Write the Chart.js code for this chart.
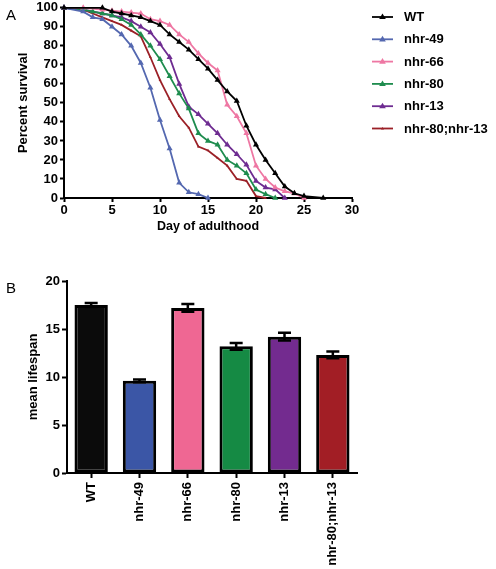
<!DOCTYPE html>
<html>
<head>
<meta charset="utf-8">
<script src="https://cdn.jsdelivr.net/npm/chart.js@4.4.1/dist/chart.umd.min.js"></script>
<style>
  html, body { margin:0; padding:0; background:#fff; }
  body { width:496px; height:569px; position:relative; overflow:hidden; font-family:"Liberation Sans", Arial, sans-serif; }
  #wrapA { position:absolute; left:0; top:-2px; width:496px; height:242px; }
  #wrapB { position:absolute; left:0; top:250px; width:496px; height:319px; }
  .panel { position:absolute; font-size:15px; color:#000; }
</style>
</head>
<body>
<div id="wrapA"><canvas id="chartA" width="496" height="242"></canvas></div>
<div id="wrapB"><canvas id="chartB" width="496" height="319"></canvas></div>
<div class="panel" style="left:6px; top:6px;">A</div>
<div class="panel" style="left:6px; top:279px;">B</div>
<script>
// ---------- Panel A data (survival curves) ----------
const seriesNames = ['WT', 'nhr-49', 'nhr-66', 'nhr-80', 'nhr-13', 'nhr-80;nhr-13'];

const wtDays   = [0, 4, 5, 6, 7, 8, 9, 10, 11, 12, 13, 14, 15, 16, 17, 18, 19, 20, 21, 22, 23, 24, 25, 27];
const wtSurv   = [100, 100, 98, 97, 96, 95, 93, 91, 86, 82, 78, 73, 68, 62, 56, 51, 38, 28, 20, 13, 6, 2.5, 1, 0];

const n49Days  = [0, 2, 3, 4, 5, 6, 7, 8, 9, 10, 11, 12, 13, 14, 15];
const n49Surv  = [100, 98, 95, 94, 90, 86, 80, 71, 58, 41, 26, 8, 3, 2, 0];

const n66Days  = [0, 2, 4, 5, 6, 7, 8, 9, 10, 11, 12, 13, 14, 15, 16, 17, 18, 19, 20, 21, 22, 23, 24, 25];
const n66Surv  = [100, 100, 99, 98.5, 98, 97.5, 97, 94, 93, 91, 86, 82, 76, 71, 67, 49, 43, 34, 17, 10, 5.5, 3.5, 2.4, 0];

const n80Days  = [0, 2, 3, 4, 5, 6, 7, 8, 9, 10, 11, 12, 13, 14, 15, 16, 17, 18, 19, 20, 21, 22];
const n80Surv  = [100, 99, 98, 97, 96, 94, 91, 86, 80, 73, 64, 55, 47, 34, 30, 28, 20, 17, 13, 4.5, 2, 0];

const n13Days  = [0, 2, 4, 5, 6, 7, 8, 9, 10, 11, 12, 13, 14, 15, 16, 17, 18, 19, 20, 21, 22, 23];
const n13Surv  = [100, 99, 97, 96, 95, 93, 90, 87, 81, 74, 60, 48, 44, 39, 34, 28, 23, 17.5, 9, 5.5, 4.5, 0];

const dblDays  = [0, 2, 3, 4, 5, 6, 7, 8, 9, 10, 11, 12, 13, 14, 15, 16, 17, 18, 19, 20, 21];
const dblSurv  = [100, 99, 97, 95, 93, 91, 88, 85, 74, 62, 52, 43, 37, 27, 25, 21, 17, 10, 9, 1, 0];

const xTicksA = [0, 5, 10, 15, 20, 25, 30];
const yTicksA = [0, 10, 20, 30, 40, 50, 60, 70, 80, 90, 100];

// ---------- Panel B data (mean lifespan) ----------
const barLabels = ['WT', 'nhr-49', 'nhr-66', 'nhr-80', 'nhr-13', 'nhr-80;nhr-13'];
const barMeans  = [17.5, 9.6, 17.2, 13.2, 14.2, 12.3];
const barErrors = [0.2, 0.15, 0.4, 0.35, 0.4, 0.35];
const yTicksB   = [0, 5, 10, 15, 20];

// ---------- styles ----------
const lineColors = ['#000000', '#5468b0', '#ee77a3', '#1e8c4e', '#6e2c91', '#9b2027'];
const barColors  = ['#0b0b0b', '#3b56a6', '#ef6793', '#158a44', '#732b8f', '#a21e25'];
const FONT = '"Liberation Sans", Arial, sans-serif';
Chart.defaults.font.family = FONT;
Chart.defaults.color = '#000';

function pts(d, s) { return d.map((x, i) => ({ x: x, y: s[i] })); }
const allDays = [wtDays, n49Days, n66Days, n80Days, n13Days, dblDays];
const allSurv = [wtSurv, n49Surv, n66Surv, n80Surv, n13Surv, dblSurv];

const datasetsA = seriesNames.map((name, i) => ({
  label: name,
  data: pts(allDays[i], allSurv[i]),
  borderColor: lineColors[i],
  backgroundColor: lineColors[i],
  borderWidth: 1.8,
  pointStyle: 'triangle',
  pointRadius: i === 5 ? 1.6 : 3.5,
  pointBorderWidth: 0,
  tension: 0,
  clip: false
}));

const legendPlugin = {
  id: 'customLegend',
  afterDraw(chart) {
    const ctx = chart.ctx;
    ctx.save();
    const x0 = 372, x1 = 393, tx = 404;
    chart.data.datasets.forEach((ds, i) => {
      const y = 19 + i * 22.3;
      ctx.strokeStyle = ds.borderColor;
      ctx.lineWidth = 1.8;
      ctx.beginPath(); ctx.moveTo(x0, y); ctx.lineTo(x1, y); ctx.stroke();
      ctx.fillStyle = ds.borderColor;
      const r = i === 5 ? 1.6 : 3.5;
      ctx.beginPath();
      ctx.moveTo((x0 + x1) / 2, y - r);
      ctx.lineTo((x0 + x1) / 2 + r * 0.95, y + r * 0.6);
      ctx.lineTo((x0 + x1) / 2 - r * 0.95, y + r * 0.6);
      ctx.closePath(); ctx.fill();
      ctx.fillStyle = '#000';
      ctx.font = 'bold 13px ' + FONT;
      ctx.textBaseline = 'middle';
      ctx.textAlign = 'left';
      ctx.fillText(ds.label, tx, y + 0.5);
    });
    ctx.restore();
  }
};

new Chart(document.getElementById('chartA'), {
  type: 'line',
  data: { datasets: datasetsA },
  options: {
    responsive: false,
    animation: false,
    layout: { padding: { left: 0, top: 0, right: 144, bottom: 0 } },
    plugins: { legend: { display: false }, tooltip: { enabled: false } },
    scales: {
      x: {
        type: 'linear', min: 0, max: 30,
        afterBuildTicks(s) { s.ticks = xTicksA.map(v => ({ value: v })); },
        ticks: { color: '#000', font: { size: 13, weight: 'bold' }, padding: 1 },
        grid: { drawOnChartArea: false, tickLength: 4, tickColor: '#000', tickWidth: 2 },
        border: { color: '#000', width: 2 },
        title: { display: true, text: 'Day of adulthood', color: '#000', font: { size: 12.5, weight: 'bold' }, padding: { top: 2, bottom: 6 } },
        afterFit(s) { s.height = 42; }
      },
      y: {
        type: 'linear', min: 0, max: 100,
        afterBuildTicks(s) { s.ticks = yTicksA.map(v => ({ value: v })); },
        ticks: { color: '#000', font: { size: 13, weight: 'bold' }, padding: 2 },
        grid: { drawOnChartArea: false, tickLength: 4, tickColor: '#000', tickWidth: 2 },
        border: { color: '#000', width: 2 },
        title: { display: true, text: 'Percent survival', color: '#000', font: { size: 13, weight: 'bold' }, padding: { top: 16, bottom: 0 } },
        afterFit(s) { s.width = 64; }
      }
    }
  },
  plugins: [legendPlugin]
});

const errorBarPlugin = {
  id: 'errorBars',
  afterDatasetsDraw(chart) {
    const ctx = chart.ctx;
    const meta = chart.getDatasetMeta(0);
    const ys = chart.scales.y;
    ctx.save();
    ctx.strokeStyle = '#000';
    ctx.lineWidth = 2.5;
    meta.data.forEach((bar, i) => {
      const x = bar.x;
      const t = ys.getPixelForValue(barMeans[i] + barErrors[i]);
      const b = ys.getPixelForValue(barMeans[i] - barErrors[i]);
      ctx.beginPath();
      ctx.moveTo(x, t); ctx.lineTo(x, b);
      ctx.moveTo(x - 6.5, t); ctx.lineTo(x + 6.5, t);
      ctx.moveTo(x - 6.5, b); ctx.lineTo(x + 6.5, b);
      ctx.stroke();
    });
    ctx.restore();
  }
};

new Chart(document.getElementById('chartB'), {
  type: 'bar',
  data: {
    labels: barLabels,
    datasets: [{
      data: barMeans,
      backgroundColor: barColors,
      borderColor: '#000',
      borderWidth: 3,
      borderSkipped: false,
      categoryPercentage: 1,
      barPercentage: 0.69
    }]
  },
  options: {
    responsive: false,
    animation: false,
    layout: { padding: { left: 0, top: 31, right: 139, bottom: 0 } },
    plugins: { legend: { display: false }, tooltip: { enabled: false } },
    scales: {
      x: {
        type: 'category',
        ticks: { color: '#000', font: { size: 13, weight: 'bold' }, maxRotation: 90, minRotation: 90, padding: 4 },
        grid: { drawOnChartArea: false, offset: false, tickLength: 5, tickColor: '#000', tickWidth: 2 },
        border: { color: '#000', width: 2 },
        afterFit(s) { s.height = 96; }
      },
      y: {
        type: 'linear', min: 0, max: 20,
        afterBuildTicks(s) { s.ticks = yTicksB.map(v => ({ value: v })); },
        ticks: { color: '#000', font: { size: 13, weight: 'bold' }, padding: 2 },
        grid: { drawOnChartArea: false, tickLength: 5, tickColor: '#000', tickWidth: 2 },
        border: { color: '#000', width: 2 },
        title: { display: true, text: 'mean lifespan', color: '#000', font: { size: 13, weight: 'bold' }, padding: { top: 26, bottom: 0 } },
        afterFit(s) { s.width = 67; }
      }
    }
  },
  plugins: [errorBarPlugin]
});
</script>
</body>
</html>
